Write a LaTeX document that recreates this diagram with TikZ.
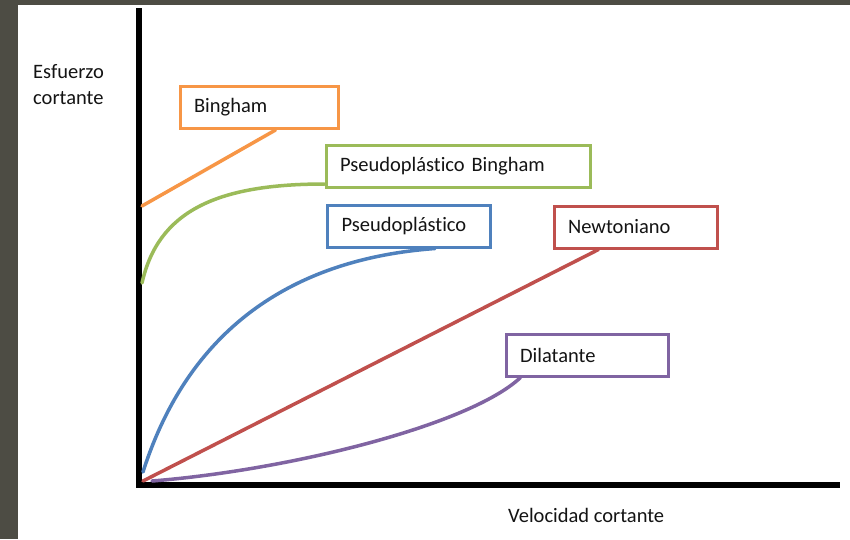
\documentclass[tikz,border=0pt]{standalone}
\usepackage{fontspec}
\setmainfont{Carlito}[Ligatures=NoCommon]
\usetikzlibrary{calc}
\definecolor{frame}{HTML}{4D4C44}
\definecolor{corange}{HTML}{F79646}
\definecolor{cgreen}{HTML}{9BBB59}
\definecolor{cblue}{HTML}{4F81BD}
\definecolor{cred}{HTML}{C0504D}
\definecolor{cpurple}{HTML}{8064A2}
\definecolor{txt}{HTML}{141414}
\tikzset{
  lbl/.style={draw, line width=3pt, fill=white, inner xsep=14pt, inner ysep=0pt,
    align=left, minimum height=42pt, font=\fontsize{20.5}{24}\selectfont, text=txt},
  curve/.style={line width=3.5pt, line cap=round},
  axis/.style={line width=5.5pt, line join=miter, black},
  axlbl/.style={font=\fontsize{20.5}{26}\selectfont, text=txt, align=left, inner sep=0pt}
}
\begin{document}
\begin{tikzpicture}[x=1pt,y=-1pt]
\useasboundingbox (0,0) rectangle (850,539);
\fill[frame] (0,0) rectangle (850,539);
\fill[white] (18,5) rectangle (850,539);

% axes
\coordinate (ytop) at (139,8);
\coordinate (corner) at (139,485);
\coordinate (xend) at (840,485);
\draw[axis] (ytop) -- (corner) -- (xend);

\node[axlbl, anchor=west] (ylab) at (33,85) {Esfuerzo\\cortante};
\node[axlbl, anchor=west] (xlab) at (508,515) {Velocidad cortante};

% label boxes
\node[lbl, draw=corange, text width=130pt] (bing) at (259,107.5) {Bingham};
\node[lbl, draw=cgreen, text width=236pt] (pbing) at (458,166) {Pseudopl\'astico Bingham};
\node[lbl, draw=cblue, text width=135pt] (pseudo) at (409,226) {Pseudopl\'astico};
\node[lbl, draw=cred, text width=135pt] (newt) at (635.5,227) {Newtoniano};
\node[lbl, draw=cpurple, text width=134pt] (dil) at (587,355) {Dilatante};

% start points on the axis
\coordinate (sOr) at (142,206);
\coordinate (sGr) at (142,283);
\coordinate (sBl) at (143,472);
\coordinate (sRe) at (143,481);
\coordinate (sPu) at (152,481);

% curves
\draw[curve, corange] (sOr) -- ([xshift=97pt]bing.south west);
\draw[curve, cgreen] (sGr) .. controls (158,212) and (215,184) .. (pbing.west |- 0,184);
\draw[curve, cblue] (sBl) .. controls (185,340) and (280,260) .. ([xshift=109pt]pseudo.south west);
\draw[curve, cred] (sRe) -- ([xshift=46pt]newt.south west);
\draw[curve, cpurple] (sPu) .. controls (290,470) and (470,425) .. ([xshift=16pt]dil.south west);
\end{tikzpicture}
\end{document}
